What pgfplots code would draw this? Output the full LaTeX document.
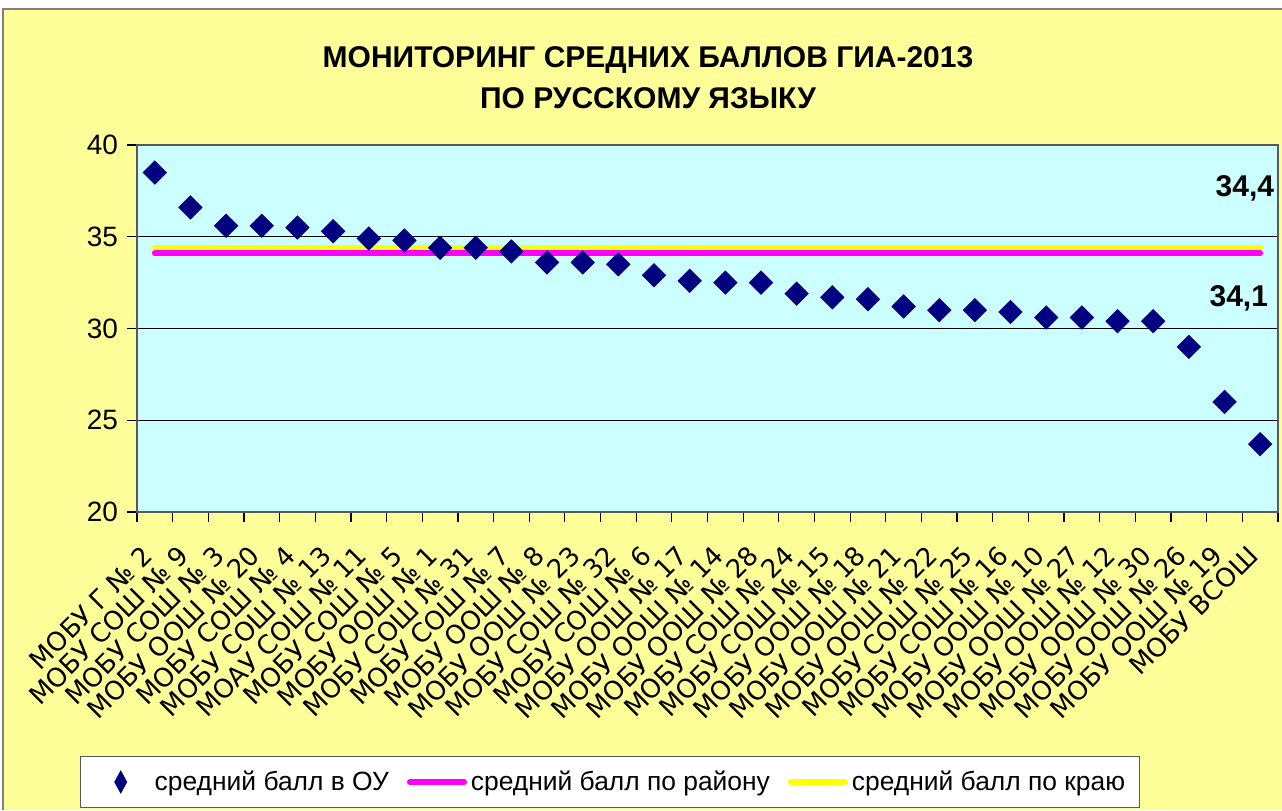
\documentclass[border=0pt]{standalone}
\usepackage{fontspec}
\setmainfont{Liberation Sans}
\newfontfamily\dvs{DejaVu Sans}
\usepackage{pgfplots}
\pgfplotsset{compat=1.18}
\definecolor{bgyellow}{HTML}{FFFF99}
\definecolor{plotcyan}{HTML}{CCFFFF}
\definecolor{navymark}{HTML}{000080}
\definecolor{mag}{HTML}{FF00FF}
\definecolor{yel}{HTML}{FFFF00}
\begin{document}
\begin{tikzpicture}
% canvas: 1px = 0.5pt, axis box origin at px (137,512)
\fill[white] (-68.5pt,-149pt) rectangle (572.5pt,256pt);
\fill[bgyellow] (-67pt,-149pt) rectangle (572.5pt,251.5pt);
\draw[gray, line width=1pt] (-67pt,-149pt) -- (-67pt,251.5pt) -- (572.5pt,251.5pt);
\begin{axis}[
  at={(0,0)}, anchor=south west,
  scale only axis, width=570.5pt, height=183.5pt,
  xmin=0.5, xmax=32.5, ymin=20, ymax=40,
  axis background/.style={fill=plotcyan},
  axis line style={draw=gray!70!black, line width=1pt},
  ytick={20,25,30,35,40},
  ymajorgrids, grid style={black, line width=0.5pt},
  tick align=outside, major tick length=5pt,
  tick style={black, line width=0.6pt},
  xtick pos=bottom, ytick pos=left,
  yticklabel style={font=\fontsize{14}{16}\selectfont, xshift=-1pt},
  /pgf/number format/assume math mode=true,
  xtick={0.5,1.5,...,32.5},
  x tick label as interval,
  xticklabels={МОБУ Г № 2, МОБУ СОШ № 9, МОБУ СОШ № 3, МОБУ ООШ № 20, МОБУ СОШ № 4, МОБУ СОШ № 13, МОАУ СОШ № 11, МОБУ СОШ № 5, МОБУ ООШ № 1, МОБУ СОШ № 31, МОБУ СОШ № 7, МОБУ ООШ № 8, МОБУ ООШ № 23, МОБУ СОШ № 32, МОБУ СОШ № 6, МОБУ ООШ № 17, МОБУ ООШ № 14, МОБУ ООШ № 28, МОБУ СОШ № 24, МОБУ СОШ № 15, МОБУ ООШ № 18, МОБУ ООШ № 21, МОБУ ООШ № 22, МОБУ СОШ № 25, МОБУ СОШ № 16, МОБУ ООШ № 10, МОБУ ООШ № 27, МОБУ ООШ № 12, МОБУ ООШ № 30, МОБУ ООШ № 26, МОБУ ООШ № 19, МОБУ ВСОШ},
  xticklabel style={font=\dvs\fontsize{13}{15}\selectfont, xshift=-7pt, yshift=-10.6pt, rotate=45, anchor=north east, inner sep=0pt},
  legend columns=3, reverse legend,
  legend style={at={(0.4145,-0.7357)}, anchor=center, draw=gray!70!black, fill=white,
    inner ysep=5pt, inner xsep=5pt,
    font=\fontsize{13.2}{15}\selectfont, /tikz/every even column/.append style={column sep=7pt}},
]
\addplot[yel, line width=3pt, line cap=round,
  legend image code/.code={\draw[yel, line width=3pt, line cap=round] (1.5pt,0pt) -- (28.5pt,0pt);}]
  coordinates {(1,34.4) (32,34.4)};
\addlegendentry{средний балл по краю}
\addplot[mag, line width=3pt, line cap=round,
  legend image code/.code={\draw[mag, line width=3pt, line cap=round] (1.5pt,0pt) -- (28.5pt,0pt);}]
  coordinates {(1,34.1) (32,34.1)};
\addlegendentry{средний балл по району}
\addplot[only marks, mark=square*, mark size=4.1pt,
  mark options={rotate=45, fill=navymark, draw=navymark},
  legend image code/.code={\path[draw=none, fill=none] (0pt,-1pt) rectangle (30pt,1pt); \path[draw=navymark, fill=navymark, line width=0.4pt] (12pt,0pt) -- (15pt,5.5pt) -- (18pt,0pt) -- (15pt,-5.5pt) -- cycle;}]
  coordinates {
  (1,38.5) (2,36.6) (3,35.6) (4,35.6) (5,35.5) (6,35.3) (7,34.9) (8,34.8)
  (9,34.4) (10,34.4) (11,34.2) (12,33.6) (13,33.6) (14,33.5) (15,32.9) (16,32.6)
  (17,32.5) (18,32.5) (19,31.9) (20,31.7) (21,31.6) (22,31.2) (23,31.0) (24,31.0)
  (25,30.9) (26,30.6) (27,30.6) (28,30.4) (29,30.4) (30,29.0) (31,26.0) (32,23.7)};
\addlegendentry{средний балл в ОУ}
\node[font=\bfseries\fontsize{15}{17}\selectfont] at (axis cs:31.57,37.66) {34,4};
\node[font=\bfseries\fontsize{15}{17}\selectfont] at (axis cs:31.4,31.66) {34,1};
\end{axis}
\node[font=\bfseries\fontsize{15}{17}\selectfont] at (255.5pt,226pt) {МОНИТОРИНГ СРЕДНИХ БАЛЛОВ ГИА-2013};
\node[font=\bfseries\fontsize{15}{17}\selectfont] at (255.5pt,207pt) {ПО РУССКОМУ ЯЗЫКУ};
\pgfresetboundingbox
\useasboundingbox (-68.5pt,-149pt) rectangle (572.5pt,256pt);
\end{tikzpicture}
\end{document}
